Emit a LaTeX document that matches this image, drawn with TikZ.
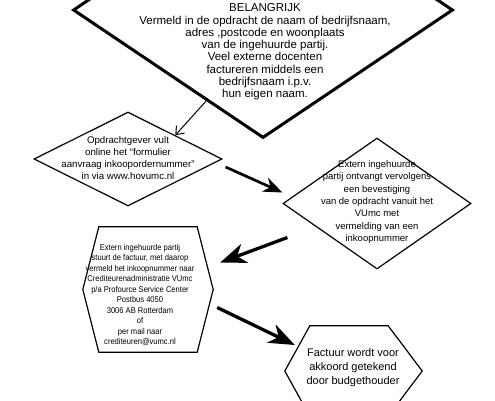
\documentclass[tikz,border=0pt]{standalone}
\usepackage{fontspec}
\setmainfont{Liberation Sans}
\newfontfamily\smalfont[FakeStretch=0.9]{Liberation Sans}
\usetikzlibrary{arrows.meta,shapes.geometric}

\begin{document}
\begin{tikzpicture}[
  x=1pt, y=-1pt,
  ruit/.style={draw, diamond, inner sep=0pt, line width=1.2pt},
  vak/.style={inner sep=0pt},
  rand/.style={line width=1.2pt, line join=miter},
  tekst/.style={align=center, inner sep=0pt},
  stap/.style={-{Stealth[length=26pt, width=20pt, inset=8pt]}, line width=3.3pt},
  kleinestap/.style={-{Stealth[length=19pt, width=15pt, inset=6pt]}, line width=2.7pt},
  >={Straight Barb[length=7pt, width=11pt]}]
  \useasboundingbox (0,0) rectangle (495,400);
  % vormen
  \node[ruit, line width=3pt, minimum width=380pt, minimum height=256pt] (belangrijk) at (263,10) {};
  \node[ruit, minimum width=188pt, minimum height=94pt] (aanvraag) at (128,159) {};
  \node[ruit, minimum width=188pt, minimum height=131pt] (bevestiging) at (377,203.5) {};
  \node[vak, minimum width=130pt, minimum height=125pt] (factuur) at (148,289.5) {};
  \node[vak, minimum width=137pt, minimum height=90pt] (akkoord) at (353.5,371) {};
  \draw[rand] (factuur.west) -- ([shift={(16,0)}]factuur.north west)
    -- ([shift={(-16,0)}]factuur.north east) -- (factuur.east)
    -- ([shift={(-16,0)}]factuur.south east) -- ([shift={(16,0)}]factuur.south west) -- cycle;
  \draw[rand] (akkoord.west) -- ([shift={(25,0)}]akkoord.north west)
    -- ([shift={(-34,0)}]akkoord.north east) -- (akkoord.east)
    -- ([shift={(-34,0)}]akkoord.south east) -- ([shift={(25,0)}]akkoord.south west) -- cycle;
  % teksten
  \node[tekst, font=\fontsize{11.5}{12.3}\selectfont] (belangrijk-tekst) at (265,52)
    {BELANGRIJK\\Vermeld in de opdracht de naam of bedrijfsnaam,\\adres ,postcode en woonplaats\\
     van de ingehuurde partij.\\Veel externe docenten\\factureren middels een\\bedrijfsnaam i.p.v.\\hun eigen naam.};
  \node[tekst, font=\fontsize{9.7}{11.7}\selectfont] (aanvraag-tekst) at (128,158)
    {Opdrachtgever vult\\online het “formulier\\aanvraag inkoopordernummer”\\in via www.hovumc.nl};
  \node[tekst, font=\fontsize{9.5}{12.3}\selectfont] (bevestiging-tekst) at (377,202)
    {Extern ingehuurde\\partij ontvangt vervolgens\\een bevestiging\\van de opdracht vanuit het\\
     VUmc met\\vermelding van een\\inkoopnummer};
  \node[tekst, font=\smalfont\fontsize{8.4}{10.5}\selectfont] (factuur-tekst) at (140,295)
    {Extern ingehuurde partij\\stuurt de factuur, met daarop\\vermeld het inkoopnummer naar\\
     Crediteurenadministratie VUmc\\p/a Profource Service Center\\Postbus 4050\\3006 AB Rotterdam\\
     of\\per mail naar\\crediteuren@vumc.nl};
  \node[tekst, font=\fontsize{11}{14}\selectfont] (akkoord-tekst) at (353,368)
    {Factuur wordt voor\\akkoord getekend\\door budgethouder};
  % pijlen
  \draw[->, line width=1pt] (belangrijk.238) -- (aanvraag.north east);
  \draw[kleinestap] ([shift={(3,8)}]aanvraag.east) -- ([shift={(0,-11)}]bevestiging.west);
  \draw[stap] ([shift={(5,34)}]bevestiging.west) -- ([shift={(7,-27)}]factuur.east);
  \draw[stap] ([shift={(4,18)}]factuur.east) -- ([shift={(10,-26)}]akkoord.west);
\end{tikzpicture}
\end{document}
